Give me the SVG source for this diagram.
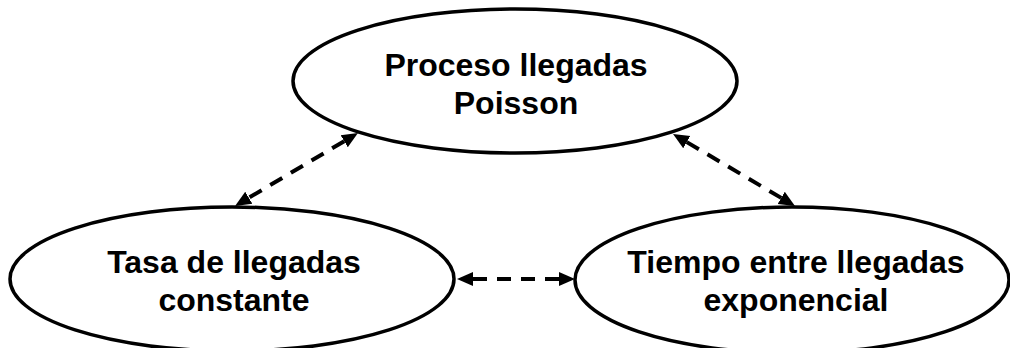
<svg xmlns="http://www.w3.org/2000/svg" width="1010" height="348" viewBox="0 0 1010 348">
<style>
.node ellipse{fill:#fff;stroke:#000;stroke-width:3.5}
.node text{font-family:"Liberation Sans",Arial,sans-serif;font-weight:bold;font-size:32px;fill:#000;text-anchor:middle}
.edge{fill:none;stroke:#000;stroke-width:4;stroke-dasharray:14 10;marker-start:url(#ah);marker-end:url(#ah)}
</style>
<defs>
<marker id="ah" markerUnits="userSpaceOnUse" markerWidth="17" markerHeight="16" refX="0" refY="7" orient="auto-start-reverse" viewBox="0 0 17 14">
<path d="M0,0 L16,7 L0,14 z" fill="#000"/>
</marker>
</defs>
<rect width="1010" height="348" fill="#fff"/>
<g id="n-poisson" class="node">
<ellipse cx="515" cy="81" rx="222" ry="72"/>
<text x="516" y="76">Proceso llegadas</text>
<text x="516" y="114">Poisson</text>
</g>
<g id="n-tasa" class="node">
<ellipse cx="232" cy="279" rx="222" ry="72"/>
<text x="234" y="273">Tasa de llegadas</text>
<text x="234" y="311">constante</text>
</g>
<g id="n-tiempo" class="node">
<ellipse cx="792" cy="280" rx="217" ry="73"/>
<text x="796" y="273">Tiempo entre llegadas</text>
<text x="796" y="311">exponencial</text>
</g>
<g id="connectors">
<path class="edge" d="M344.2,141.2 L248.8,197.8"/>
<path class="edge" d="M686.8,142.1 L781.2,197.9"/>
<path class="edge" d="M473,279 L559,279"/>
</g>
</svg>
